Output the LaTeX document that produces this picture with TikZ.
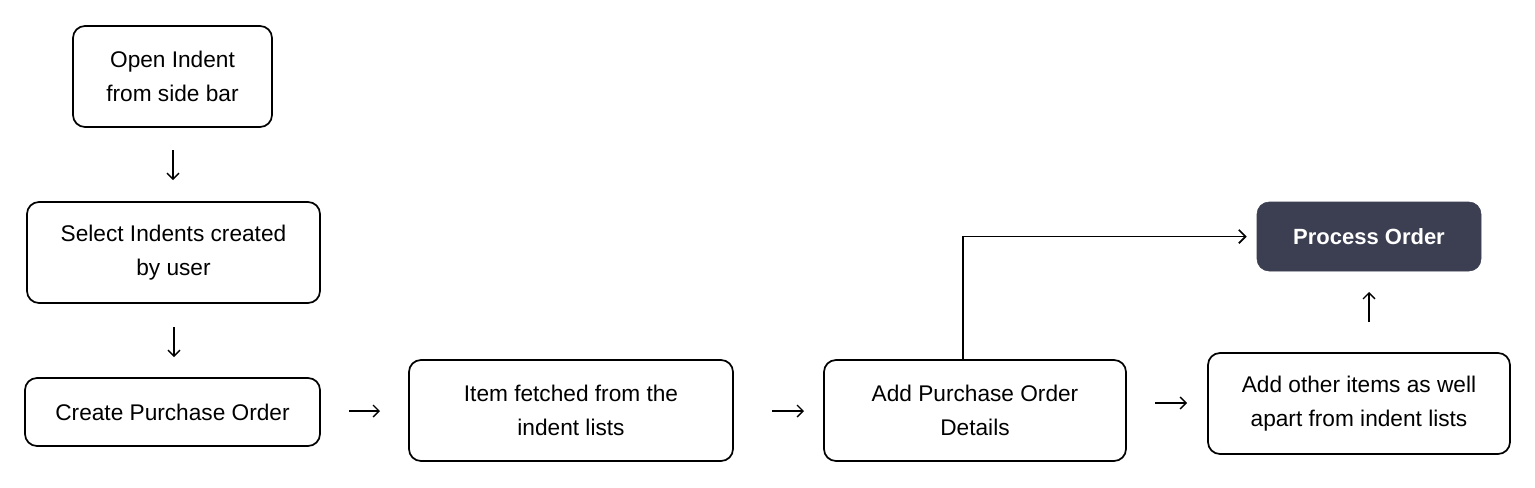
\documentclass[tikz,border=0pt]{standalone}
\usepackage{fontspec}
\setmainfont{Liberation Sans}
\usetikzlibrary{arrows.meta}
\definecolor{darkbox}{HTML}{3C3F51}
\begin{document}
\begin{tikzpicture}[x=0.75pt,y=-0.75pt,
  box/.style={draw=black,line width=1.3pt,rounded corners=9pt,align=center,
    font=\fontsize{17}{25}\selectfont,inner sep=0pt},
  darkstep/.style={fill=darkbox,draw=darkbox,rounded corners=9pt,align=center,
    text=white,font=\fontsize{16.5}{25}\selectfont\bfseries,inner sep=0pt},
  flow/.style={line width=1pt,-{Straight Barb[length=4.5pt,width=9pt]}}]
\useasboundingbox[fill=white] (0,0) rectangle (1535,487);
\node[box,minimum width=199*0.75pt,minimum height=101*0.75pt] (b1) at (172.5,76.5) {Open Indent\\from side bar};
\node[box,minimum width=293*0.75pt,minimum height=101*0.75pt] (b2) at (173.5,252.5) {Select Indents created\\by user};
\node[box,minimum width=295*0.75pt,minimum height=68*0.75pt] (b3) at (172.5,412) {Create Purchase Order};
\node[box,minimum width=324*0.75pt,minimum height=101*0.75pt] (b4) at (571,410.5) {Item fetched from the\\indent lists};
\node[box,minimum width=302*0.75pt,minimum height=101*0.75pt] (b5) at (975,410.5) {Add Purchase Order\\Details};
\node[box,minimum width=302*0.75pt,minimum height=101*0.75pt] (b6) at (1359,403.5) {Add other items as well\\apart from indent lists};
\node[darkstep,minimum width=224*0.75pt,minimum height=69*0.75pt] (proc) at (1369,236.5) {Process Order};
% short arrows
\coordinate (a1s) at (173,150); \coordinate (a1e) at (173,180);
\coordinate (a2s) at (174,327); \coordinate (a2e) at (174,357);
\coordinate (a3s) at (349,411); \coordinate (a3e) at (380,411);
\coordinate (a4s) at (772,411); \coordinate (a4e) at (804,411);
\coordinate (a5s) at (1155,403); \coordinate (a5e) at (1187,403);
\coordinate (a6s) at (1369,322); \coordinate (a6e) at (1369,292);
\draw[flow] (a1s) -- (a1e);
\draw[flow] (a2s) -- (a2e);
\draw[flow] (a3s) -- (a3e);
\draw[flow] (a4s) -- (a4e);
\draw[flow] (a5s) -- (a5e);
\draw[flow] (a6s) -- (a6e);
% elbow connector
\coordinate (ex) at (963,0);
\draw[line width=1.3pt,-{Straight Barb[length=5pt,width=10pt]},shorten >=7.5pt] (b5.north -| ex) |- (proc.west);
\end{tikzpicture}
\end{document}
